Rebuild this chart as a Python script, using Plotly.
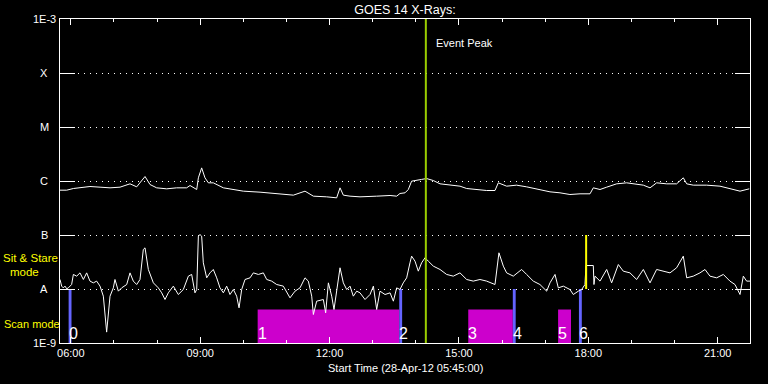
import math
import plotly.graph_objects as go
from datetime import datetime, timedelta

START = datetime(2012, 4, 28, 5, 45, 0)
END = START + timedelta(hours=16)

# GOES 14 long channel (1-8 A): minutes after start time, flux (W/m^2)
long_min = [0, 9.3, 18.6, 27.8, 41.7, 55.7, 69.6, 83.5, 97.4, 106.7,
            118.3, 125.2, 134.5, 148.4, 162.3, 176.2, 180.9, 190.2, 192.5, 197.1,
            201.7, 206.4, 213.3, 227.3, 241.2, 255.1, 278.3, 301.5, 324.7, 340.9,
            352.5, 371.0, 384.9, 389.6, 394.2, 403.5, 417.4, 440.6, 459.2, 468.4,
            473.0, 480.0, 484.6, 489.2, 496.2, 503.1, 510.1, 519.4, 528.7, 542.6,
            556.5, 565.8, 579.7, 593.6, 605.2, 609.8, 621.4, 635.3, 649.2, 667.8,
            681.7, 695.6, 709.5, 723.5, 737.4, 742.0, 751.3, 760.6, 774.5, 788.4,
            797.7, 811.6, 820.9, 830.1, 844.0, 857.9, 867.2, 871.9, 881.1, 899.7,
            918.2, 932.1, 946.1, 959.0]
long_flux = [6.76e-7, 6.76e-7, 7.26e-7, 7.47e-7, 7.91e-7, 7.69e-7, 7.47e-7, 7.69e-7, 8.86e-7, 7.80e-7,
             1.21e-6, 8.61e-7, 7.47e-7, 7.16e-7, 7.47e-7, 7.47e-7, 8.25e-7, 6.96e-7, 1.145e-6, 1.75e-6,
             1.145e-6, 9.25e-7, 9.25e-7, 7.47e-7, 6.96e-7, 6.48e-7, 6.21e-7, 5.87e-7, 5.47e-7, 6.48e-7,
             5.24e-7, 5.09e-7, 4.88e-7, 7.47e-7, 5.47e-7, 5.24e-7, 5.09e-7, 5.24e-7, 5.39e-7, 5.24e-7,
             5.87e-7, 6.04e-7, 6.96e-7, 9.93e-7, 1.02e-6, 1.07e-6, 1.11e-6, 1.02e-6, 8.86e-7, 8.37e-7,
             8.02e-7, 7.26e-7, 6.96e-7, 6.67e-7, 6.67e-7, 9.25e-7, 8.02e-7, 8.37e-7, 7.80e-7, 6.96e-7,
             6.30e-7, 6.04e-7, 5.62e-7, 5.79e-7, 5.79e-7, 7.47e-7, 6.96e-7, 7.69e-7, 8.86e-7, 9.25e-7,
             8.86e-7, 8.37e-7, 7.47e-7, 9.25e-7, 8.86e-7, 8.86e-7, 1.145e-6, 8.86e-7, 8.37e-7, 8.37e-7,
             8.02e-7, 7.26e-7, 6.48e-7, 7.16e-7]

# GOES 14 short channel (0.5-4 A): minutes after start time, flux (W/m^2)
short_min = [0, 2.3, 4.6, 7.0, 9.3, 11.6, 16.2, 18.6, 23.2, 27.8,
             32.5, 37.1, 41.7, 46.4, 51.0, 55.7, 60.3, 64.9, 69.6, 74.2,
             76.5, 81.2, 85.8, 92.8, 97.4, 102.0, 106.7, 111.3, 115.9, 118.3,
             122.9, 129.9, 136.8, 141.5, 146.1, 150.7, 157.7, 164.6, 171.6, 178.6,
             183.2, 187.8, 190.2, 192.5, 194.8, 197.1, 199.4, 204.1, 208.7, 213.3,
             218.0, 222.6, 227.3, 231.9, 236.5, 241.2, 245.8, 249.1, 252.8, 257.4,
             264.4, 269.0, 276.0, 282.9, 287.6, 294.5, 301.5, 310.7, 320.0, 327.0,
             333.9, 340.9, 345.5, 350.2, 352.5, 357.1, 366.4, 369.6, 373.4, 378.0,
             381.2, 384.9, 389.6, 394.2, 398.9, 403.5, 408.1, 412.8, 417.4, 424.4,
             431.3, 436.0, 440.6, 445.2, 452.2, 459.2, 463.8, 468.4, 473.0, 477.6,
             482.3, 486.9, 489.2, 493.9, 498.5, 503.1, 507.8, 512.4, 519.4, 528.7,
             537.9, 547.2, 556.5, 565.8, 575.0, 584.3, 593.6, 605.2, 607.5, 610.7,
             616.8, 621.4, 630.7, 642.3, 649.2, 658.5, 667.8, 677.1, 681.7, 688.7,
             693.3, 700.3, 709.5, 714.2, 721.1, 725.8, 730.4, 731.8, 742.0, 742.9,
             744.3, 751.3, 760.6, 767.5, 776.8, 783.7, 793.0, 802.3, 811.6, 820.9,
             830.1, 839.4, 848.7, 857.9, 867.2, 871.9, 881.1, 890.4, 897.4, 904.3,
             913.6, 922.9, 932.1, 939.1, 943.7, 946.1, 950.7, 955.3, 960.0]
short_flux = [1.50e-8, 1.13e-8, 1.05e-8, 1.13e-8, 1.01e-8, 1.05e-8, 1.21e-8, 1.86e-8, 1.73e-8, 1.99e-8,
              1.50e-8, 1.99e-8, 1.40e-8, 1.30e-8, 1.40e-8, 1.13e-8, 7.37e-9, 1.59e-9, 7.37e-9, 1.05e-8,
              1.50e-8, 9.12e-9, 1.05e-8, 1.21e-8, 1.99e-8, 1.40e-8, 1.21e-8, 1.50e-8, 5.39e-8, 5.79e-8,
              2.30e-8, 1.30e-8, 1.05e-8, 8.49e-9, 6.39e-9, 8.49e-9, 1.13e-8, 7.91e-9, 9.79e-9, 1.73e-8,
              1.86e-8, 8.49e-9, 9.79e-9, 9.52e-8, 1.02e-7, 9.52e-8, 3.05e-8, 1.61e-8, 1.99e-8, 2.30e-8,
              1.61e-8, 1.05e-8, 8.49e-9, 1.13e-8, 7.91e-9, 9.79e-9, 7.37e-9, 4.48e-9, 9.79e-9, 1.50e-8,
              1.61e-8, 1.99e-8, 1.86e-8, 1.99e-8, 1.50e-8, 1.40e-8, 1.21e-8, 1.13e-8, 6.86e-9, 9.12e-9,
              1.05e-8, 1.61e-8, 1.40e-8, 7.37e-9, 3.37e-9, 5.95e-9, 6.39e-9, 3.62e-9, 1.30e-8, 7.37e-9,
              4.17e-9, 8.49e-9, 2.47e-8, 1.30e-8, 9.79e-9, 1.13e-8, 7.37e-9, 9.12e-9, 8.49e-9, 6.39e-9,
              7.91e-9, 1.13e-8, 4.17e-9, 9.12e-9, 7.91e-9, 8.49e-9, 5.95e-9, 1.05e-8, 9.79e-9, 1.30e-8,
              1.61e-8, 3.05e-8, 4.06e-8, 3.28e-8, 2.14e-8, 3.05e-8, 3.78e-8, 3.28e-8, 2.65e-8, 2.30e-8,
              1.86e-8, 1.73e-8, 1.99e-8, 1.50e-8, 1.40e-8, 1.50e-8, 1.40e-8, 1.21e-8, 1.99e-8, 4.68e-8,
              2.65e-8, 1.99e-8, 1.73e-8, 2.30e-8, 1.86e-8, 1.40e-8, 1.21e-8, 9.12e-9, 1.30e-8, 1.86e-8,
              1.05e-8, 1.13e-8, 9.79e-9, 7.91e-9, 9.12e-9, 9.79e-9, 1.21e-8, 2.72e-8, 2.72e-8, 1.21e-8,
              1.73e-8, 1.40e-8, 2.30e-8, 1.30e-8, 2.84e-8, 2.14e-8, 1.99e-8, 1.50e-8, 2.30e-8, 1.30e-8,
              2.30e-8, 2.14e-8, 1.99e-8, 2.47e-8, 4.06e-8, 1.61e-8, 1.73e-8, 1.99e-8, 2.30e-8, 1.73e-8,
              1.61e-8, 1.86e-8, 1.40e-8, 1.21e-8, 9.12e-9, 7.91e-9, 1.73e-8, 1.40e-8, 1.40e-8]

# Observation modes
scan_labels = ["1", "3", "5"]
scan_start = ["10:20", "15:13", "17:18"]
scan_end = ["13:37", "16:15", "17:36"]
stare_labels = ["0", "2", "4", "6"]
stare_start = ["05:57", "13:37", "16:15", "17:47"]
stare_end = ["06:01", "13:41", "16:19", "17:51"]
SCAN_TOP = 4.17e-9
STARE_TOP = 1e-8

event_peak = "14:14"
mode_change = "17:57"
mode_change_range = [1e-8, 1e-7]

ytick_vals = [1e-9, 1e-8, 1e-7, 1e-6, 1e-5, 1e-4, 1e-3]
ytick_text = ["1E-9", "A", "B", "C", "M", "X", "1E-3"]

FONT = "Liberation Sans"
WHITE = "#ffffff"
YELLOW = "#ffff00"


def t(hm):
    return datetime.strptime("2012-04-28 " + hm, "%Y-%m-%d %H:%M")


def py(px):
    # pixel row -> paper y for a plot spanning rows 19..343
    return (343 - px) / 324


long_t = [START + timedelta(minutes=m) for m in long_min]
short_t = [START + timedelta(minutes=m) for m in short_min]

fig = go.Figure()

# mode bars
for s, e in zip(scan_start, scan_end):
    fig.add_trace(go.Scatter(x=[t(s), t(e), t(e), t(s), t(s)],
                             y=[1e-9, 1e-9, SCAN_TOP, SCAN_TOP, 1e-9],
                             fill="toself", fillcolor="#cc00cc", mode="none",
                             showlegend=False, hoverinfo="skip"))
for s, e in zip(stare_start, stare_end):
    fig.add_trace(go.Scatter(x=[t(s), t(e), t(e), t(s), t(s)],
                             y=[1e-9, 1e-9, STARE_TOP, STARE_TOP, 1e-9],
                             fill="toself", fillcolor="#6464ff", mode="none",
                             showlegend=False, hoverinfo="skip"))

# curves
fig.add_trace(go.Scatter(x=long_t, y=long_flux, mode="lines",
                         line=dict(color=WHITE, width=1), showlegend=False))
fig.add_trace(go.Scatter(x=short_t, y=short_flux, mode="lines",
                         line=dict(color=WHITE, width=1), showlegend=False))

# event peak & mode change lines
fig.add_trace(go.Scatter(x=[t(event_peak), t(event_peak)], y=[1e-9, 1e-3], mode="lines",
                         line=dict(color="#9acd00", width=2), showlegend=False))
fig.add_trace(go.Scatter(x=[t(mode_change), t(mode_change)], y=mode_change_range, mode="lines",
                         line=dict(color=YELLOW, width=2), showlegend=False))

ann = []
for lab, s in zip(scan_labels + stare_labels, scan_start + stare_start):
    ann.append(dict(x=t(s), y=py(333), xref="x", yref="paper", text=lab, showarrow=False,
                    xanchor="left", yanchor="middle", xshift=-2,
                    font=dict(family=FONT, size=16, color=WHITE)))

ann.append(dict(x=t(event_peak), y=py(43), xref="x", yref="paper", text="Event Peak",
                showarrow=False, xanchor="left", yanchor="middle", xshift=8,
                font=dict(family=FONT, size=11, color=WHITE)))

# y labels
for v, txt in zip(ytick_vals, ytick_text):
    yp = (math.log10(v) + 9) / 6
    if txt.startswith("1E"):
        ann.append(dict(x=0, y=yp, xref="paper", yref="paper", text=txt, showarrow=False,
                        xanchor="right", yanchor="middle", xshift=-2,
                        font=dict(family=FONT, size=11, color=WHITE)))
    else:
        ann.append(dict(x=0, y=yp, xref="paper", yref="paper", text=txt, showarrow=False,
                        xanchor="center", yanchor="middle", xshift=-16,
                        font=dict(family=FONT, size=11, color=WHITE)))

ann.append(dict(x=-58 / 690, y=py(258), xref="paper", yref="paper", text="Sit & Stare",
                showarrow=False, xanchor="left", yanchor="middle", borderpad=0,
                font=dict(family=FONT, size=11.5, color=YELLOW)))
ann.append(dict(x=-35.5 / 690, y=py(272), xref="paper", yref="paper", text="mode",
                showarrow=False, xanchor="center", yanchor="middle", borderpad=0,
                font=dict(family=FONT, size=11.5, color=YELLOW)))
ann.append(dict(x=-58 / 690, y=py(324), xref="paper", yref="paper", text="Scan mode",
                showarrow=False, xanchor="left", yanchor="middle",
                font=dict(family=FONT, size=11, color=YELLOW)))
ann.append(dict(x=0.5, y=py(368), xref="paper", yref="paper",
                text="Start Time (28-Apr-12 05:45:00)", showarrow=False,
                xanchor="center", yanchor="middle",
                font=dict(family=FONT, size=11, color=WHITE)))

fig.update_layout(
    width=768, height=384,
    margin=dict(l=60, r=18, t=19, b=41),
    paper_bgcolor="black", plot_bgcolor="black",
    title=dict(text="GOES 14 X-Rays:", x=0.5, xref="paper", y=1 - 10 / 384, yanchor="middle",
               xanchor="center", font=dict(family=FONT, size=12.5, color=WHITE)),
    annotations=ann,
    showlegend=False,
)
fig.update_xaxes(
    type="date", range=[START, END],
    tickmode="linear", tick0=t("06:00"), dtick=3 * 3600 * 1000, tickformat="%H:%M",
    ticks="inside", ticklen=6, tickwidth=1, tickcolor=WHITE,
    minor=dict(ticks="inside", ticklen=3, dtick=3600 * 1000, tick0=t("06:00"),
               tickcolor=WHITE, tickwidth=1, showgrid=False),
    showline=True, linecolor=WHITE, linewidth=1, mirror="ticks",
    showgrid=False, zeroline=False,
    tickfont=dict(family=FONT, size=11, color=WHITE),
)
fig.update_yaxes(
    type="log", range=[-9, -3],
    tickmode="array", tickvals=ytick_vals, showticklabels=False,
    ticks="inside", ticklen=15, tickwidth=1, tickcolor=WHITE,
    showline=True, linecolor=WHITE, linewidth=1, mirror="ticks",
    showgrid=True, gridcolor=WHITE, gridwidth=1, griddash="1px,5px",
    zeroline=False,
)

fig.write_html("out.html")
